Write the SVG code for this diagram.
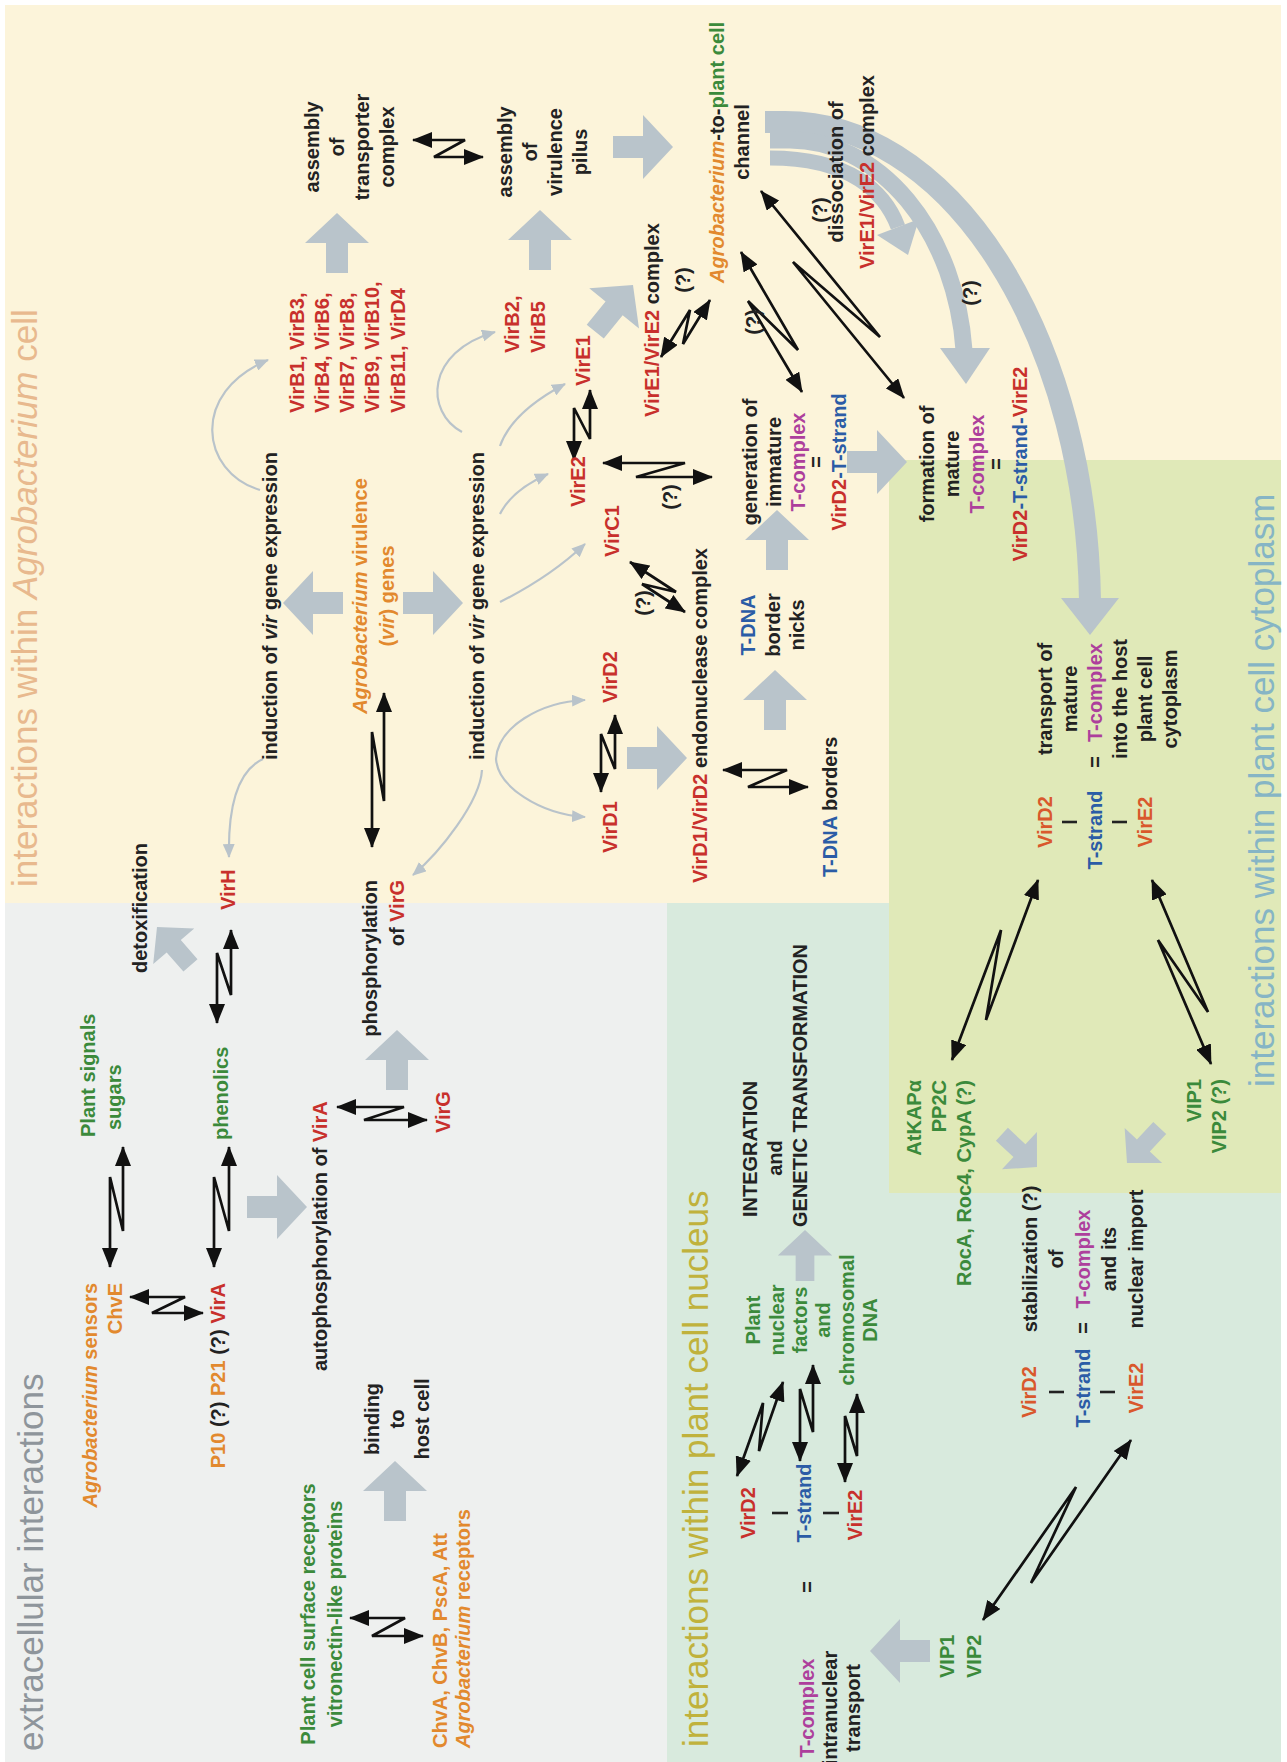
<svg xmlns="http://www.w3.org/2000/svg" width="1287" height="1762" viewBox="0 0 1287 1762">
<style>
.t{font-family:"Liberation Sans",Arial,Helvetica,sans-serif;font-size:20px;font-weight:bold;fill:#222}
.ti{font-family:"Liberation Sans",Arial,Helvetica,sans-serif;font-size:35px;font-weight:normal}
.r{fill:#c8302c}.ro{fill:#d9582c}.o{fill:#e2892e}.g{fill:#3b8a3b}.b{fill:#2b5ca6}.m{fill:#ad3f9c}.k{fill:#222}
.i{font-style:italic}
.z{fill:none;stroke:#111;stroke-width:2.7;marker-start:url(#ah);marker-end:url(#ah);stroke-linejoin:miter}
.c{fill:none;stroke:#b9c3ca;stroke-width:2.2;marker-end:url(#gh)}
.arc{fill:none;stroke:#b9c4cb}
.bar{stroke:#222;stroke-width:2.6}
</style>
<defs>
<marker id="ah" viewBox="0 0 20 16" refX="19" refY="8" markerWidth="20" markerHeight="16" markerUnits="userSpaceOnUse" orient="auto-start-reverse"><path d="M0,0 L20,8 L0,16 z" fill="#111"/></marker>
<marker id="gh" viewBox="0 0 14 12" refX="13" refY="6" markerWidth="14" markerHeight="12" markerUnits="userSpaceOnUse" orient="auto"><path d="M0,0 L14,6 L0,12 z" fill="#b9c3ca"/></marker>
<path id="ba" d="M-60,-11 L-30,-11 L-30,-32 L0,0 L-30,32 L-30,11 L-60,11 Z" fill="#b9c4cb"/>
</defs>
<g transform="translate(0,1762) rotate(-90)">
<g id="backgrounds">
<rect x="0" y="0" width="1762" height="1287" fill="#ffffff"/>
<rect x="0" y="5" width="1757" height="1276" fill="#fcf4da"/>
<rect x="0" y="5" width="859" height="662" fill="#eef0ef"/>
<path d="M0,667 H859 V889 H569 V1281 H0 Z" fill="#d8eadd"/>
<rect x="569" y="889" width="733" height="392" fill="#e0e9b8"/>
</g>
<g id="connectors">
<path class="arc" stroke-width="22" d="M1640,765 L1640,785 A490,305 0 0 1 1162,1090"/>
<polygon points="1127,1090 1164,1061 1164,1119" fill="#b9c4cb"/>
<path class="arc" stroke-width="17" d="M1622,770 L1622,790 A232,175 0 0 1 1412,964"/>
<polygon points="1378,966 1414,940 1414,990" fill="#b9c4cb"/>
<path class="arc" stroke-width="15" d="M1604,770 C1604,850 1570,885 1535,898"/>
<polygon points="1507,908 1543,919 1527,877" fill="#b9c4cb"/>
<use href="#ba" transform="translate(1549,337)"/>
<use href="#ba" transform="translate(1552,540)"/>
<use href="#ba" transform="translate(1615,673) rotate(90)"/>
<use href="#ba" transform="translate(301,395)"/>
<use href="#ba" transform="translate(555,307) rotate(90)"/>
<use href="#ba" transform="translate(732,397)"/>
<use href="#ba" transform="translate(835,157) rotate(-41) scale(0.85)"/>
<use href="#ba" transform="translate(1159,283) rotate(-90)"/>
<use href="#ba" transform="translate(1159,463) rotate(90)"/>
<use href="#ba" transform="translate(1004,687) rotate(90)"/>
<use href="#ba" transform="translate(1092,775)"/>
<use href="#ba" transform="translate(1252,777)"/>
<use href="#ba" transform="translate(1300,907) rotate(90)"/>
<use href="#ba" transform="translate(1477,633) rotate(39)"/>
<use href="#ba" transform="translate(595,1037) rotate(133) scale(0.8)"/>
<use href="#ba" transform="translate(599,1127) rotate(-137) scale(0.8)"/>
<use href="#ba" transform="translate(111,870) rotate(-90)"/>
<use href="#ba" transform="translate(532,805) scale(0.85)"/>
<path class="c" d="M1272,260 C1290,200 1370,190 1402,268"/>
<path class="c" d="M1003,263 C990,235 950,228 905,229"/>
<path class="c" d="M1330,462 C1350,425 1410,425 1430,495"/>
<path class="c" d="M1316,500 Q1350,512 1378,565"/>
<path class="c" d="M1248,500 Q1272,512 1288,548"/>
<path class="c" d="M1160,500 Q1185,550 1218,585"/>
<path class="c" d="M1003,496 C975,498 948,540 945,585"/>
<path class="c" d="M1003,496 C1035,498 1060,540 1062,585"/>
<path class="c" d="M992,482 C960,480 910,440 887,413"/>
<path class="z" d="M495,110 L585,110 L531,123 L615,123"/>
<path class="z" d="M495,214 L585,214 L531,229 L615,229"/>
<path class="z" d="M739,217 L809,217 L767,231 L832,231"/>
<path class="z" d="M915,372 L1030,372 L961,384 L1069,384"/>
<path class="z" d="M970,601 L1028,601 L993,615 L1047,615"/>
<path class="z" d="M1302,574 L1354,574 L1323,590 L1372,590"/>
<path class="z" d="M1622,413 L1622,465 L1605,434 L1605,483"/>
<path class="z" d="M465,130 L465,185 L449,152 L449,203"/>
<path class="z" d="M655,337 L655,404 L642,364 L642,427"/>
<path class="z" d="M992,723 L992,787 L975,748 L975,808"/>
<path class="z" d="M144,350 L144,405 L126,372 L126,423"/>
<path class="z" d="M1200,630 L1170,676 L1178,642 L1150,685"/>
<path class="z" d="M1299,603 L1299,685 L1285,636 L1285,712"/>
<path class="z" d="M1405,661 L1452,690 L1418,683 L1462,710"/>
<path class="z" d="M1510,741 L1412,798 L1461,748 L1370,802"/>
<path class="z" d="M1571,761 L1425,880 L1500,793 L1364,904"/>
<path class="z" d="M882,1038 L742,986 L832,1001 L702,952"/>
<path class="z" d="M882,1152 L750,1208 L822,1158 L698,1211"/>
<path class="z" d="M322,1131 L179,1031 L275,1076 L142,983"/>
<path class="z" d="M286,737 L359,763 L311,759 L380,783"/>
<path class="z" d="M301,800 L373,800 L330,813 L397,813"/>
<path class="z" d="M280,845 L346,845 L306,857 L368,857"/>
</g>
<g id="ext-title"><text class="ti" x="11" y="43" fill="#8e959b">extracellular interactions</text></g>
<g id="agro-sensors"><text class="t o" x="479" y="97" text-anchor="end"><tspan class="i">Agrobacterium</tspan> sensors</text><text class="t o" x="479" y="122" text-anchor="end">ChvE</text></g>
<g id="plant-signals"><text class="t g" x="625" y="95">Plant signals</text><text class="t g" x="632" y="121">sugars</text></g>
<g id="vira"><text class="t" x="479" y="225" text-anchor="end"><tspan class="o">P10</tspan> (?) <tspan class="o">P21</tspan> (?) <tspan class="r">VirA</tspan></text></g>
<g id="phenolics"><text class="t g" x="622" y="228">phenolics</text></g>
<g id="detox"><text class="t" x="789" y="147">detoxification</text></g>
<g id="virh"><text class="t r" x="852" y="235">VirH</text></g>
<g id="autophos"><text class="t" x="391" y="327">autophosphorylation of <tspan class="r">VirA</tspan></text></g>
<g id="virg"><text class="t r" x="629" y="450">VirG</text></g>
<g id="phos-virg"><text class="t" x="882" y="377" text-anchor="end">phosphorylation</text><text class="t" x="882" y="404" text-anchor="end">of <tspan class="r">VirG</tspan></text></g>
<g id="plant-receptors"><text class="t g" x="148" y="315" text-anchor="middle">Plant cell surface receptors</text><text class="t g" x="148" y="342" text-anchor="middle">vitronectin-like proteins</text></g>
<g id="agro-receptors"><text class="t o" x="14" y="447">ChvA, ChvB, PscA, Att</text><text class="t o" x="14" y="470"><tspan class="i">Agrobacterium</tspan> receptors</text></g>
<g id="binding"><text class="t" x="343" y="379" text-anchor="middle">binding</text><text class="t" x="343" y="404" text-anchor="middle">to</text><text class="t" x="343" y="429" text-anchor="middle">host cell</text></g>
<g id="agro-title"><text class="ti" x="875" y="37" fill="#e8b98e">interactions within <tspan class="i">Agrobacterium</tspan> cell</text></g>
<g id="induction1"><text class="t" x="1002" y="277">induction of <tspan class="i">vir</tspan> gene expression</text></g>
<g id="vir-genes"><text class="t o" x="1166" y="367" text-anchor="middle"><tspan class="i">Agrobacterium</tspan> virulence</text><text class="t o" x="1166" y="394" text-anchor="middle">(<tspan class="i">vir</tspan>) genes</text></g>
<g id="induction2"><text class="t" x="1002" y="484">induction of <tspan class="i">vir</tspan> gene expression</text></g>
<g id="virb"><text class="t r" x="1349" y="304">VirB1, VirB3,</text><text class="t r" x="1349" y="329">VirB4, VirB6,</text><text class="t r" x="1349" y="354">VirB7, VirB8,</text><text class="t r" x="1349" y="379">VirB9, VirB10,</text><text class="t r" x="1349" y="405">VirB11, VirD4</text></g>
<g id="transporter"><text class="t" x="1615" y="319" text-anchor="middle">assembly</text><text class="t" x="1615" y="344" text-anchor="middle">of</text><text class="t" x="1615" y="369" text-anchor="middle">transporter</text><text class="t" x="1615" y="394" text-anchor="middle">complex</text></g>
<g id="pilus"><text class="t" x="1610" y="512" text-anchor="middle">assembly</text><text class="t" x="1610" y="537" text-anchor="middle">of</text><text class="t" x="1610" y="562" text-anchor="middle">virulence</text><text class="t" x="1610" y="587" text-anchor="middle">pilus</text></g>
<g id="virb2"><text class="t r" x="1409" y="519">VirB2,</text><text class="t r" x="1409" y="545">VirB5</text></g>
<g id="vire1"><text class="t r" x="1376" y="590">VirE1</text></g>
<g id="vire2"><text class="t r" x="1255" y="585">VirE2</text></g>
<g id="virc1"><text class="t r" x="1205" y="619">VirC1</text></g>
<g id="vird1"><text class="t r" x="909" y="617">VirD1</text></g>
<g id="vird2"><text class="t r" x="1059" y="617">VirD2</text></g>
<g id="endonuclease"><text class="t" x="879" y="707"><tspan class="r">VirD1/VirD2</tspan> endonuclease complex</text></g>
<g id="tdna-borders"><text class="t" x="885" y="837"><tspan class="b">T-DNA</tspan> borders</text></g>
<g id="nicks"><text class="t b" x="1137" y="755" text-anchor="middle">T-DNA</text><text class="t" x="1137" y="780" text-anchor="middle">border</text><text class="t" x="1137" y="804" text-anchor="middle">nicks</text></g>
<g id="generation"><text class="t" x="1300" y="757" text-anchor="middle">generation of</text><text class="t" x="1300" y="781" text-anchor="middle">immature</text><text class="t m" x="1300" y="805" text-anchor="middle">T-complex</text><text class="t" x="1300" y="823" text-anchor="middle">=</text><text class="t" x="1300" y="846" text-anchor="middle"><tspan class="r">VirD2</tspan><tspan class="b">-T-strand</tspan></text></g>
<g id="vire1e2"><text class="t" x="1345" y="659"><tspan class="r">VirE1/VirE2</tspan> complex</text></g>
<g id="channel"><text class="t" x="1479" y="724"><tspan class="o i">Agrobacterium</tspan>-to-<tspan class="g">plant cell</tspan></text><text class="t" x="1620" y="749" text-anchor="middle">channel</text></g>
<g id="dissociation"><text class="t" x="1590" y="843" text-anchor="middle">dissociation of</text><text class="t" x="1590" y="874" text-anchor="middle"><tspan class="r">VirE1/VirE2</tspan> complex</text></g>
<g id="formation"><text class="t" x="1298" y="934" text-anchor="middle">formation of</text><text class="t" x="1298" y="959" text-anchor="middle">mature</text><text class="t m" x="1298" y="984" text-anchor="middle">T-complex</text><text class="t" x="1298" y="1003" text-anchor="middle">=</text><text class="t" x="1298" y="1027" text-anchor="middle"><tspan class="r">VirD2</tspan><tspan class="b">-T-strand-</tspan><tspan class="r">VirE2</tspan></text></g>
<g id="q-marks"><text class="t" x="1265" y="677" text-anchor="middle">(?)</text><text class="t" x="1159" y="650" text-anchor="middle">(?)</text><text class="t" x="1482" y="690" text-anchor="middle">(?)</text><text class="t" x="1440" y="760" text-anchor="middle">(?)</text><text class="t" x="1552" y="827" text-anchor="middle">(?)</text><text class="t" x="1469" y="977" text-anchor="middle">(?)</text></g>
<g id="nuc-title"><text class="ti" x="15" y="708" fill="#c0b23c">interactions within plant cell nucleus</text></g>
<g id="tcomplex-nuc"><text class="t m" x="54" y="814" text-anchor="middle">T-complex</text><text class="t" x="54" y="837" text-anchor="middle">intranuclear</text><text class="t" x="54" y="860" text-anchor="middle">transport</text><text class="t" x="175" y="814" text-anchor="middle">=</text></g>
<g id="tstrand-nuc"><text class="t r" x="249" y="755" text-anchor="middle">VirD2</text><line class="bar" x1="249" y1="772" x2="249" y2="788"/><text class="t b" x="259" y="811" text-anchor="middle">T-strand</text><line class="bar" x1="249" y1="823" x2="249" y2="839"/><text class="t r" x="247" y="862" text-anchor="middle">VirE2</text></g>
<g id="nuc-factors"><text class="t g" x="442" y="760" text-anchor="middle">Plant</text><text class="t g" x="442" y="784" text-anchor="middle">nuclear</text><text class="t g" x="442" y="807" text-anchor="middle">factors</text><text class="t g" x="442" y="830" text-anchor="middle">and</text><text class="t g" x="442" y="854" text-anchor="middle">chromosomal</text><text class="t g" x="442" y="877" text-anchor="middle">DNA</text></g>
<g id="integration"><text class="t" x="545" y="757">INTEGRATION</text><text class="t" x="604" y="782" text-anchor="middle">and</text><text class="t" x="535" y="807">GENETIC TRANSFORMATION</text></g>
<g id="vip-nuc"><text class="t g" x="84" y="954">VIP1</text><text class="t g" x="84" y="981">VIP2</text></g>
<g id="stab-complex"><text class="t ro" x="370" y="1036" text-anchor="middle">VirD2</text><line class="bar" x1="370" y1="1049" x2="370" y2="1064"/><text class="t b" x="374" y="1090" text-anchor="middle">T-strand</text><text class="t" x="434" y="1090" text-anchor="middle">=</text><line class="bar" x1="370" y1="1100" x2="370" y2="1115"/><text class="t ro" x="374" y="1143" text-anchor="middle">VirE2</text></g>
<g id="stabilization"><text class="t" x="503" y="1037" text-anchor="middle">stabilization (?)</text><text class="t" x="503" y="1063" text-anchor="middle">of</text><text class="t m" x="503" y="1090" text-anchor="middle">T-complex</text><text class="t" x="503" y="1116" text-anchor="middle">and its</text><text class="t" x="503" y="1143" text-anchor="middle">nuclear import</text></g>
<g id="cyto-title"><text class="ti" x="675" y="1274" fill="#86b5c5">interactions within plant cell cytoplasm</text></g>
<g id="atkap"><text class="t g" x="682" y="921" text-anchor="end">AtKAPα</text><text class="t g" x="682" y="946" text-anchor="end">PP2C</text><text class="t g" x="682" y="971" text-anchor="end">RocA, Roc4, CypA (?)</text></g>
<g id="vip-cyto"><text class="t g" x="683" y="1201" text-anchor="end">VIP1</text><text class="t g" x="683" y="1226" text-anchor="end">VIP2 (?)</text></g>
<g id="transport"><text class="t ro" x="940" y="1052" text-anchor="middle">VirD2</text><line class="bar" x1="940" y1="1062" x2="940" y2="1077"/><text class="t b" x="932" y="1102" text-anchor="middle">T-strand</text><text class="t" x="1000" y="1102" text-anchor="middle">=</text><line class="bar" x1="940" y1="1112" x2="940" y2="1127"/><text class="t ro" x="940" y="1152" text-anchor="middle">VirE2</text><text class="t" x="1063" y="1052" text-anchor="middle">transport of</text><text class="t" x="1063" y="1077" text-anchor="middle">mature</text><text class="t m" x="1020" y="1102">T-complex</text><text class="t" x="1063" y="1127" text-anchor="middle">into the host</text><text class="t" x="1063" y="1152" text-anchor="middle">plant cell</text><text class="t" x="1063" y="1177" text-anchor="middle">cytoplasm</text></g>
</g>
</svg>
